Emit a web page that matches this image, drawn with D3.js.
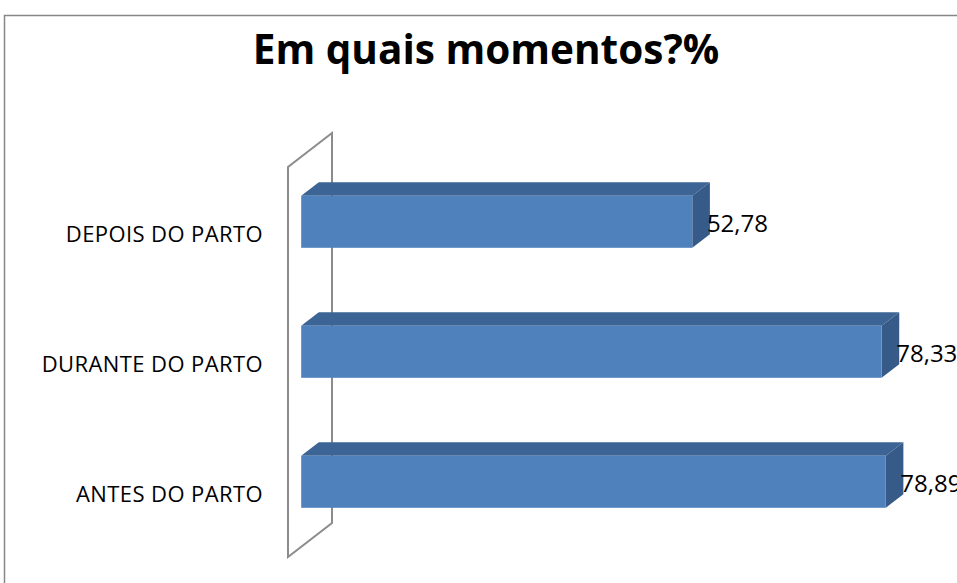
<!DOCTYPE html>
<html><head><meta charset="utf-8">
<script src="https://cdn.jsdelivr.net/npm/d3@7/dist/d3.min.js"></script>
<style>html,body{margin:0;padding:0;background:#fff;overflow:hidden}</style>
</head><body>
<svg id="c" width="957" height="583"></svg>
<script>
const categories = ["DEPOIS DO PARTO", "DURANTE DO PARTO", "ANTES DO PARTO"];
const values = [52.78, 78.33, 78.89];
const valueLabels = ["52,78", "78,33", "78,89"];
const chartTitle = "Em quais momentos?%";

(function () {
const svg = d3.select("#c");
const font = "'Open Sans', 'Liberation Sans', sans-serif";

// chart border
svg.append("path")
  .attr("d", "M4.5,583 L4.5,15.5 L957,15.5")
  .attr("fill", "none").attr("stroke", "#878787").attr("stroke-width", 1.5);

// title
svg.append("text").attr("x", 486).attr("y", 64)
  .attr("text-anchor", "middle").attr("font-family", font)
  .attr("font-weight", "bold").attr("font-size", 40.5).attr("fill", "#000")
  .text(chartTitle);

// 3D geometry
const wallFront = 288, depthX = 44, depthY = -34;
const barF = 0.3, barB = 0.7;
const y = d3.scaleBand().domain(categories).range([167, 557]).paddingInner(0.6).paddingOuter(0.3);
const x = d3.scaleLinear().domain([0, 100]).range([wallFront, wallFront + 741]);

// wall
const wTop = y.range()[0], wBot = y.range()[1];
svg.append("path")
  .attr("d", `M${wallFront},${wBot} L${wallFront},${wTop} L${wallFront+depthX},${wTop+depthY} L${wallFront+depthX},${wBot+depthY} Z`)
  .attr("fill", "none").attr("stroke", "#8c8c8c").attr("stroke-width", 2).attr("stroke-linejoin", "miter");

const fx = barF * depthX, fy = barF * depthY;
const bx = barB * depthX, by = barB * depthY;
const dx = bx - fx, dy = by - fy;

const g = svg.append("g");
categories.forEach((c, i) => {
  const x0 = x(0) + fx, x1 = x(values[i]) + fx;
  const y0 = y(c) + fy, h = y.bandwidth();
  g.append("path").attr("d", `M${x0},${y0} L${x0+dx},${y0+dy} L${x1+dx},${y0+dy} L${x1},${y0} Z`)
    .attr("fill", "#3C6494");
  g.append("path").attr("d", `M${x1},${y0} L${x1+dx},${y0+dy} L${x1+dx},${y0+h+dy} L${x1},${y0+h} Z`)
    .attr("fill", "#375B88");
  g.append("rect").attr("x", x0).attr("y", y0).attr("width", x1 - x0).attr("height", h)
    .attr("fill", "#4F81BD");
  g.append("text").attr("x", x1 + dx - 3).attr("y", y0 + h / 2 + 10.5)
    .attr("font-family", font).attr("font-size", 24).attr("fill", "#000")
    .text(valueLabels[i]);
  svg.append("text").attr("x", 263).attr("y", y(c) + y.bandwidth() / 2 + 9.7)
    .attr("text-anchor", "end").attr("font-family", font).attr("font-size", 22)
    .attr("letter-spacing", 0.4).attr("fill", "#000")
    .text(c);
});
})();
</script>
</body></html>
